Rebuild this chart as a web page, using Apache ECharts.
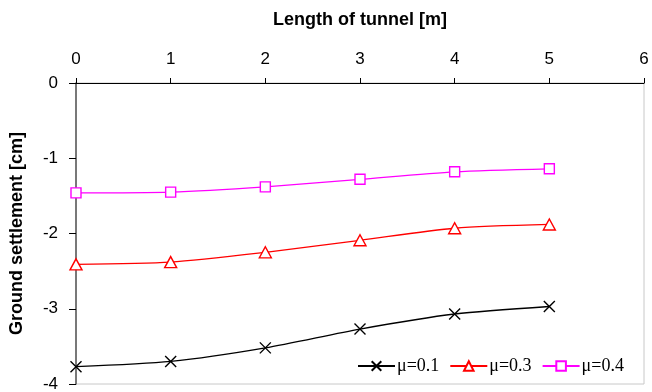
<!DOCTYPE html>
<html>
<head>
<meta charset="utf-8">
<script src="https://cdn.jsdelivr.net/npm/echarts@6/dist/echarts.min.js"></script>
<style>html,body{margin:0;padding:0;background:#fff;}#c{width:652px;height:392px;}</style>
</head>
<body>
<div id="c"></div>
<script>
const lengths = [0, 1, 2, 3, 4, 5];
const mu01 = [-3.77, -3.70, -3.52, -3.27, -3.07, -2.97];
const mu03 = [-2.41, -2.38, -2.25, -2.09, -1.93, -1.88];
const mu04 = [-1.46, -1.45, -1.38, -1.28, -1.18, -1.14];
const seriesNames = ['μ=0.1', 'μ=0.3', 'μ=0.4'];
const xTicks = [0, 1, 2, 3, 4, 5, 6];
const yTicks = [0, -1, -2, -3, -4];

function pairs(vals) { return lengths.map((x, i) => [x, vals[i]]); }

const chart = echarts.init(document.getElementById('c'), null, {renderer: 'canvas'});
chart.setOption({
  animation: false,
  backgroundColor: '#fff',
  grid: {left: 76, right: 8, top: 83, bottom: 8, containLabel: false, outerBoundsMode: 'none',
         show: true, borderColor: '#c8c8c8', borderWidth: 1, backgroundColor: 'transparent'},
  xAxis: {
    type: 'value', position: 'top', min: xTicks[0], max: xTicks[xTicks.length - 1], interval: 1,
    name: 'Length of tunnel [m]', nameLocation: 'middle', nameGap: 54,
    nameTextStyle: {fontFamily: 'Liberation Sans', fontWeight: 'bold', fontSize: 18, color: '#000'},
    axisLine: {show: true, onZero: false, lineStyle: {color: '#000', width: 1}},
    axisTick: {show: true, inside: false, length: 5, lineStyle: {color: '#000'}},
    axisLabel: {fontFamily: 'Liberation Sans', fontSize: 17, color: '#000', margin: 15},
    splitLine: {show: false}
  },
  yAxis: {
    type: 'value', min: yTicks[yTicks.length - 1], max: yTicks[0], interval: 1,
    name: 'Ground settlement [cm]', nameLocation: 'middle', nameGap: 50,
    nameTextStyle: {fontFamily: 'Liberation Sans', fontWeight: 'bold', fontSize: 18, color: '#000'},
    axisLine: {show: true, onZero: false, lineStyle: {color: '#555', width: 1.5}},
    axisTick: {show: true, inside: false, length: 7, lineStyle: {color: '#000'}},
    axisLabel: {fontFamily: 'Liberation Sans', fontSize: 17, color: '#000', margin: 18},
    splitLine: {show: false}
  },
  legend: {
    left: 352, top: 352, itemWidth: 37, itemHeight: 12, itemGap: 10,
    textStyle: {fontFamily: 'Liberation Serif', fontSize: 18, color: '#000', padding: [0, 0, 0, -3]},
    data: seriesNames
  },
  series: [
    {
      name: seriesNames[0], type: 'line', data: pairs(mu01), smooth: 0.25,
      symbol: 'path://M0,0L10,10M10,0L0,10', symbolSize: 11, symbolKeepAspect: true,
      lineStyle: {color: '#000', width: 1.3},
      itemStyle: {color: '#000', borderColor: '#000', borderWidth: 1.4}
    },
    {
      name: seriesNames[1], type: 'line', data: pairs(mu03), smooth: 0.25,
      symbol: 'triangle', symbolSize: [12, 11],
      lineStyle: {color: '#ff0000', width: 1.3},
      itemStyle: {color: '#fff', borderColor: '#ff0000', borderWidth: 1.4}
    },
    {
      name: seriesNames[2], type: 'line', data: pairs(mu04), smooth: 0.25,
      symbol: 'rect', symbolSize: 10,
      lineStyle: {color: '#ff00ff', width: 1.3},
      itemStyle: {color: '#fff', borderColor: '#ff00ff', borderWidth: 1.4}
    }
  ]
});
</script>
</body>
</html>
